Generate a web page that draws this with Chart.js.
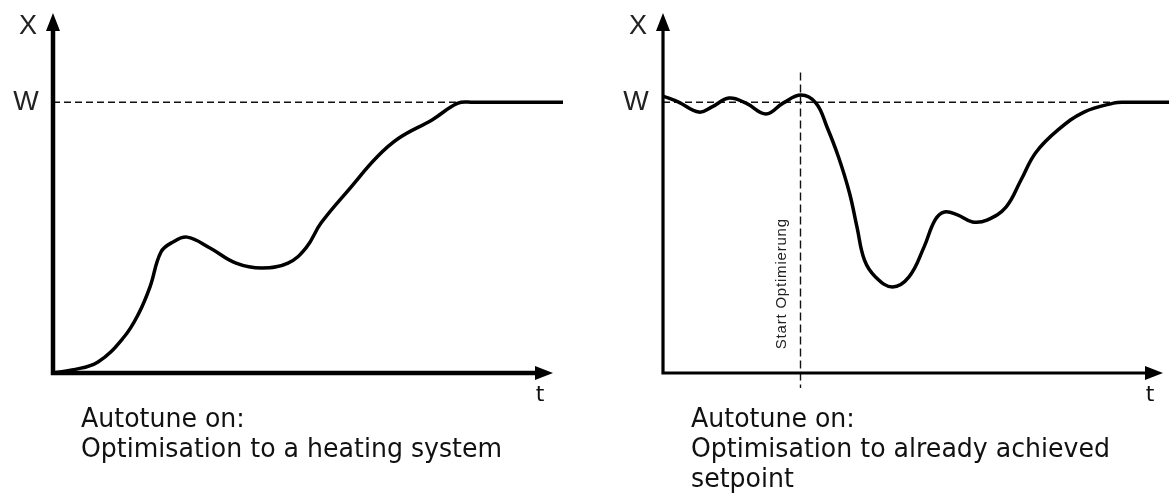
<!DOCTYPE html>
<html>
<head>
<meta charset="utf-8">
<script src="https://cdn.jsdelivr.net/npm/chart.js@4.4.0/dist/chart.umd.min.js"></script>
<style>
  body { margin: 0; background: #fff; }
  .panel { position: absolute; top: 0; height: 500px; }
</style>
</head>
<body>
<div class="panel" style="left:0;width:584px"><canvas id="heating-chart" width="584" height="500"></canvas></div>
<div class="panel" style="left:584px;width:585px"><canvas id="setpoint-chart" width="585" height="500"></canvas></div>
<script>
// setpoint W, in the same units as X
const setpoint = 100;

// heating system: time t and process value X
const heatT = [0, 3.8, 9, 14.2, 17.2, 19.4, 21.6, 24, 26.8, 31.4, 36.6, 41.8, 47, 50.6, 53.6, 59.6, 64.8, 69.2, 75.8, 81, 84, 102];
const heatX = [0, 1.1, 4.1, 13.3, 22.2, 31.8, 44.7, 48.4, 50.2, 46.2, 40.6, 38.8, 40.6, 46.2, 55.4, 68.7, 79.8, 86.8, 93.5, 99.7, 100, 100];
const heatDash = [0, 84];   // W reference line, t range

// already at setpoint, optimisation started at startT
const holdT = [0, 3.1, 7.2, 9.8, 13.2, 16.6, 20.6, 24, 27.6, 30.6, 32.8, 35.1, 37.3, 38.8, 40.3, 42.5, 45.9, 49.2, 52.2, 54.4, 56.3, 58.9, 61.9, 64.8, 68.6, 71.6, 74.5, 79, 84.2, 90.1, 92.4, 101.2];
const holdX = [102.3, 100.1, 96.4, 98.3, 101.6, 99.7, 95.7, 99.7, 102.7, 99.7, 90.9, 79.8, 66.5, 53.9, 41.7, 35.5, 31.8, 35.5, 46.5, 56.5, 59.5, 58.4, 55.8, 56.5, 61.3, 71.3, 81.3, 89.8, 96.4, 99.7, 100, 100];
const holdDash = [0, 92.4];
const startT = 27.5;
const startSpan = [111, -5.5];

const heatCaption = ['Autotune on:', 'Optimisation to a heating system'];
const holdCaption = ['Autotune on:', 'Optimisation to already achieved', 'setpoint'];

const pts = (xs, ys) => xs.map((v, i) => ({x: v, y: ys[i]}));

// axes with arrows, axis letters and the caption underneath
const decor = {
  id: 'decor',
  afterDatasetsDraw(chart, args, o) {
    const {ctx, chartArea: a, scales: {x, y}} = chart;
    const x0 = x.getPixelForValue(0), y0 = y.getPixelForValue(0);
    const tipX = x.getPixelForValue(100), tipY = a.top;
    ctx.save();
    ctx.fillStyle = '#000';
    ctx.strokeStyle = '#000';
    ctx.lineWidth = o.axisWidth;
    ctx.lineJoin = 'miter';
    ctx.beginPath();
    ctx.moveTo(x0, tipY + 12);
    ctx.lineTo(x0, y0);
    ctx.lineTo(tipX - 12, y0);
    ctx.stroke();

    ctx.beginPath();
    ctx.moveTo(x0, tipY);
    ctx.lineTo(x0 - 7, tipY + 18);
    ctx.lineTo(x0 + 7, tipY + 18);
    ctx.closePath();
    ctx.moveTo(tipX, y0);
    ctx.lineTo(tipX - 18, y0 - 7);
    ctx.lineTo(tipX - 18, y0 + 7);
    ctx.closePath();
    ctx.fill();

    ctx.fillStyle = '#222';
    ctx.textAlign = 'center';
    ctx.textBaseline = 'middle';
    ctx.font = '27px "Liberation Sans"';
    ctx.fillText('X', x0 - 25, tipY + 14);
    ctx.fillText('W', x0 - 27, y.getPixelForValue(setpoint));

    ctx.fillStyle = '#111';
    ctx.textBaseline = 'alphabetic';
    ctx.font = '22px "DejaVu Sans"';
    ctx.fillText('t', tipX - 13, y0 + 28);

    if (o.startLabel) {
      ctx.save();
      ctx.fillStyle = '#222';
      ctx.font = '15px "Liberation Sans"';
      ctx.letterSpacing = '0.8px';
      ctx.translate(x.getPixelForValue(startT) - 15, y.getPixelForValue(33));
      ctx.rotate(-Math.PI / 2);
      ctx.fillText(o.startLabel, 0, 0);
      ctx.restore();
    }

    ctx.textAlign = 'left';
    ctx.font = '26px "DejaVu Sans"';
    o.caption.forEach((line, i) => {
      ctx.save();
      ctx.translate(x0 + 28, y0 + 54 + i * 30);
      ctx.scale(0.97, 1);
      ctx.fillText(line, 0, 0);
      ctx.restore();
    });
    ctx.restore();
  }
};

function makePanel(id, curve, dash, xMax, padding, extra, decorOpts) {
  const datasets = [
    {data: curve, borderColor: '#000', borderWidth: 3.5, tension: 0.4},
    {data: pts(dash, [setpoint, setpoint]), borderColor: '#111', borderWidth: 1.4, borderDash: [7, 4]}
  ].concat(extra);
  return new Chart(document.getElementById(id).getContext('2d'), {
    type: 'line',
    data: {datasets: datasets},
    options: {
      responsive: false,
      animation: false,
      layout: {padding: padding},
      elements: {point: {radius: 0}, line: {fill: false}},
      scales: {
        x: {type: 'linear', min: 0, max: xMax, display: false},
        y: {min: 0, max: 133, display: false}
      },
      plugins: {legend: {display: false}, tooltip: {enabled: false}, decor: decorOpts}
    },
    plugins: [decor]
  });
}

makePanel('heating-chart', pts(heatT, heatX), heatDash, 102,
  {left: 53, top: 13, right: 21, bottom: 127}, [],
  {axisWidth: 4.5, caption: heatCaption});

makePanel('setpoint-chart', pts(holdT, holdX), holdDash, 101.2,
  {left: 79, top: 13, right: 0, bottom: 127},
  [{data: pts([startT, startT], startSpan), borderColor: '#111', borderWidth: 1.4, borderDash: [8, 4], clip: false}],
  {axisWidth: 3.2, caption: holdCaption, startLabel: 'Start Optimierung'});
</script>
</body>
</html>
